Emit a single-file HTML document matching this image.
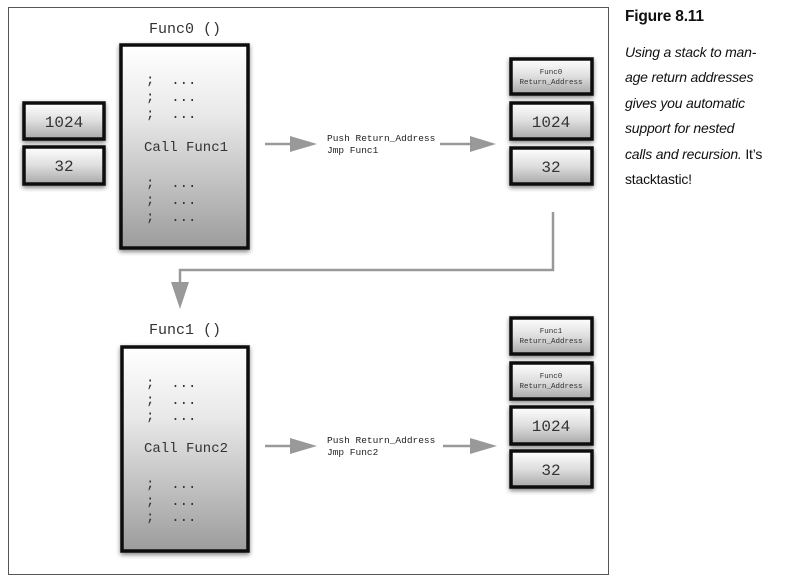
<!DOCTYPE html>
<html><head><meta charset="utf-8"><style>
html,body{margin:0;padding:0;background:#fff;width:791px;height:584px;overflow:hidden}
.cap{position:absolute;left:625px;font-family:"Liberation Sans",sans-serif;font-size:14px;color:#111;letter-spacing:-0.2px}
</style></head><body>
<svg width="791" height="584" viewBox="0 0 791 584" style="position:absolute;left:0;top:0" font-family="Liberation Mono, DejaVu Sans Mono, monospace">
<defs>
<linearGradient id="g" x1="0" y1="0" x2="0" y2="1"><stop offset="0" stop-color="#ffffff"/><stop offset="0.35" stop-color="#e8e8e8"/><stop offset="1" stop-color="#9c9c9c"/></linearGradient>
<linearGradient id="gs" x1="0" y1="0" x2="0" y2="1"><stop offset="0" stop-color="#ffffff"/><stop offset="0.5" stop-color="#dedede"/><stop offset="1" stop-color="#a8a8a8"/></linearGradient>
<filter id="sh" x="-20%" y="-20%" width="140%" height="140%"><feGaussianBlur in="SourceAlpha" stdDeviation="2.5"/><feOffset dx="0" dy="2"/><feComponentTransfer><feFuncA type="linear" slope="0.5"/></feComponentTransfer><feMerge><feMergeNode/><feMergeNode in="SourceGraphic"/></feMerge></filter>
</defs>
<rect x="8.5" y="7.5" width="600" height="567" fill="none" stroke="#555" stroke-width="1"/>
<g stroke="#111" stroke-width="3.5" filter="url(#sh)">
<rect x="121" y="45" width="127" height="203" fill="url(#g)"/>
<rect x="122" y="347" width="126" height="204" fill="url(#g)"/>
<rect x="24" y="103" width="80" height="36" fill="url(#gs)"/>
<rect x="24" y="147" width="80" height="37" fill="url(#gs)"/>
<rect x="511" y="59" width="81" height="35" fill="url(#gs)"/>
<rect x="511" y="103" width="81" height="36" fill="url(#gs)"/>
<rect x="511" y="148" width="81" height="36" fill="url(#gs)"/>
<rect x="511" y="318" width="81" height="36" fill="url(#gs)"/>
<rect x="511" y="363" width="81" height="36" fill="url(#gs)"/>
<rect x="511" y="407" width="81" height="37" fill="url(#gs)"/>
<rect x="511" y="451" width="81" height="36" fill="url(#gs)"/>
</g>
<g fill="#333" font-size="14">
<text x="185" y="33" text-anchor="middle" font-size="15">Func0 ()</text>
<text x="185" y="334" text-anchor="middle" font-size="15">Func1 ()</text>
<text x="146" y="84" xml:space="preserve">;  ...</text>
<text x="146" y="101" xml:space="preserve">;  ...</text>
<text x="146" y="118" xml:space="preserve">;  ...</text>
<text x="144" y="151">Call Func1</text>
<text x="146" y="187" xml:space="preserve">;  ...</text>
<text x="146" y="204" xml:space="preserve">;  ...</text>
<text x="146" y="221" xml:space="preserve">;  ...</text>
<text x="146" y="387" xml:space="preserve">;  ...</text>
<text x="146" y="404" xml:space="preserve">;  ...</text>
<text x="146" y="420" xml:space="preserve">;  ...</text>
<text x="144" y="452">Call Func2</text>
<text x="146" y="488" xml:space="preserve">;  ...</text>
<text x="146" y="505" xml:space="preserve">;  ...</text>
<text x="146" y="521" xml:space="preserve">;  ...</text>
<text x="64" y="127" text-anchor="middle" font-size="16">1024</text>
<text x="64" y="171" text-anchor="middle" font-size="16">32</text>
<text x="551" y="127" text-anchor="middle" font-size="16">1024</text>
<text x="551" y="172" text-anchor="middle" font-size="16">32</text>
<text x="551" y="431" text-anchor="middle" font-size="16">1024</text>
<text x="551" y="475" text-anchor="middle" font-size="16">32</text>
</g>
<g fill="#333" font-size="7.5" text-anchor="middle">
<text x="551" y="74">Func0</text><text x="551" y="84">Return_Address</text>
<text x="551" y="333">Func1</text><text x="551" y="343">Return_Address</text>
<text x="551" y="378">Func0</text><text x="551" y="388">Return_Address</text>
</g>
<g fill="#222" font-size="9.5">
<text x="327" y="141">Push Return_Address</text><text x="327" y="153">Jmp Func1</text>
<text x="327" y="443">Push Return_Address</text><text x="327" y="455">Jmp Func2</text>
</g>
<g stroke="#999" stroke-width="2.5" fill="none">
<line x1="265" y1="144" x2="292" y2="144"/><line x1="440" y1="144" x2="472" y2="144"/>
<line x1="265" y1="446" x2="292" y2="446"/><line x1="443" y1="446" x2="472" y2="446"/>
<polyline points="553,212 553,270 180,270 180,285"/>
</g>
<g fill="#999">
<polygon points="290,136 317,144 290,152"/><polygon points="470,136 496,144 470,152"/>
<polygon points="290,438 317,446 290,454"/><polygon points="470,438 497,446 470,454"/>
<polygon points="171,282 189,282 180,309"/>
</g>
</svg>
<div class="cap" style="top:8px;font-weight:bold;font-size:15.5px">Figure 8.11</div>
<div class="cap" style="top:40px;font-style:italic;line-height:25.4px">Using a stack to man-<br>age return addresses<br>gives you automatic<br>support for nested<br>calls and recursion. <span style="font-style:normal">It’s</span><br><span style="font-style:normal">stacktastic!</span></div>
</body></html>
